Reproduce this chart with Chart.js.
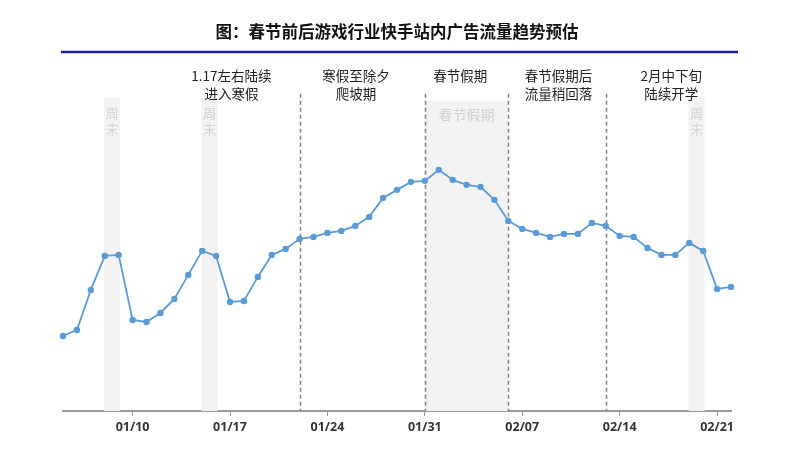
<!DOCTYPE html>
<html>
<head>
<meta charset="utf-8">
<script src="https://cdn.jsdelivr.net/npm/chart.js@4.4.0/dist/chart.umd.min.js"></script>
<style>
  html, body { margin: 0; padding: 0; background: #fff; }
  #wrap { width: 800px; height: 459px; }
</style>
</head>
<body>
<div id="wrap"><canvas id="myChart"></canvas></div>
<script>
const dates = [
    '01/05', '01/06', '01/07', '01/08', '01/09', '01/10', '01/11', '01/12', '01/13', '01/14',
    '01/15', '01/16', '01/17', '01/18', '01/19', '01/20', '01/21', '01/22', '01/23', '01/24',
    '01/25', '01/26', '01/27', '01/28', '01/29', '01/30', '01/31', '02/01', '02/02', '02/03',
    '02/04', '02/05', '02/06', '02/07', '02/08', '02/09', '02/10', '02/11', '02/12', '02/13',
    '02/14', '02/15', '02/16', '02/17', '02/18', '02/19', '02/20', '02/21', '02/22'
];
const traffic = [
    75, 81, 121, 155, 156, 91, 89, 98, 112, 136,
    160, 155, 109, 110, 134, 156, 162, 172, 174, 178,
    180, 185, 194, 213, 221, 229, 230, 241, 231, 226,
    224, 211, 190, 182, 178, 174, 177, 177, 188, 185,
    175, 174, 163, 156, 156, 168, 160, 122, 124
];
const tickDates = ['01/10', '01/17', '01/24', '01/31', '02/07', '02/14', '02/21'];
const weekends = [['01/08', '01/09'], ['01/15', '01/16'], ['02/19', '02/20']];
const holiday = ['01/31', '02/06'];
const phaseLines = ['01/22', '01/31', '02/06', '02/13'];
const noteDates = ['01/17', '01/26', '02/02', '02/09', '02/17'];
const noteTexts = [
    ['1.17左右陆续', '进入寒假'],
    ['寒假至除夕', '爬坡期'],
    ['春节假期', ''],
    ['春节假期后', '流量稍回落'],
    ['2月中下旬', '陆续开学']
];

const cjk = '"Noto Sans CJK SC", "Noto Sans", sans-serif';

// shaded bands, dashed phase lines and the texts around the plot
const decorPlugin = {
    id: 'decor',
    beforeDatasetsDraw(chart) {
        const ctx = chart.ctx;
        const x = chart.scales.x;
        const area = chart.chartArea;
        const px = d => x.getPixelForValue(dates.indexOf(d));
        const day = x.getPixelForValue(1) - x.getPixelForValue(0);

        ctx.save();
        ctx.fillStyle = '#f2f2f2';
        weekends.forEach(w => {
            const x0 = px(w[0]) - day * 0.05;
            const x1 = px(w[1]) + day * 0.1;
            ctx.fillRect(x0, area.top + 1, x1 - x0, area.bottom - area.top - 1);
        });
        const h0 = px(holiday[0]), h1 = px(holiday[1]);
        ctx.fillRect(h0, area.top + 4, h1 - h0, area.bottom - area.top - 4);

        ctx.fillStyle = '#d3d3d3';
        ctx.textAlign = 'center';
        ctx.textBaseline = 'middle';
        ctx.font = '13px ' + cjk;
        weekends.forEach(w => {
            const cx = (px(w[0]) + px(w[1])) / 2 + day * 0.03;
            ctx.fillText('周', cx, area.top + 16);
            ctx.fillText('末', cx, area.top + 32);
        });
        ctx.font = '14px ' + cjk;
        ctx.fillText('春节假期', (h0 + h1) / 2, area.top + 18);

        ctx.strokeStyle = '#808080';
        ctx.lineWidth = 1.5;
        ctx.setLineDash([4, 3]);
        phaseLines.forEach(d => {
            const lx = Math.round(px(d)) + 0.5;
            ctx.beginPath();
            ctx.moveTo(lx, area.top - 3);
            ctx.lineTo(lx, area.bottom);
            ctx.stroke();
        });
        ctx.setLineDash([]);

        ctx.fillStyle = '#222';
        ctx.font = '13.5px ' + cjk;
        const shift = [0.1, 0.05, 0.55, 0.6, 0.7];
        noteDates.forEach((d, i) => {
            const cx = x.getPixelForValue(dates.indexOf(d) + shift[i]);
            ctx.fillText(noteTexts[i][0], cx, area.top - 21);
            if (noteTexts[i][1]) ctx.fillText(noteTexts[i][1], cx, area.top - 3);
        });

        ctx.strokeStyle = '#1c1c9c';
        ctx.lineWidth = 2.5;
        ctx.beginPath();
        ctx.moveTo(61, 52);
        ctx.lineTo(738, 52);
        ctx.stroke();
        ctx.restore();
    }
};

const ctx = document.getElementById('myChart').getContext('2d');
new Chart(ctx, {
    type: 'line',
    data: {
        labels: dates,
        datasets: [{
            label: '广告流量',
            data: traffic,
            borderColor: '#5b9bd5',
            backgroundColor: '#5b9bd5',
            borderWidth: 1.8,
            pointRadius: 3.2,
            pointBorderWidth: 0,
            tension: 0
        }]
    },
    options: {
        responsive: true,
        maintainAspectRatio: false,
        animation: false,
        layout: { padding: { left: 63, right: 69, top: 0, bottom: 20 } },
        plugins: {
            legend: { display: false },
            tooltip: { enabled: false },
            title: {
                display: true,
                text: '图：春节前后游戏行业快手站内广告流量趋势预估',
                color: '#111',
                font: { family: cjk, size: 16.5, weight: 'bold' },
                padding: { top: 22, bottom: 55 }
            }
        },
        scales: {
            x: {
                offset: false,
                border: { display: true, color: '#999', width: 2 },
                grid: { drawOnChartArea: false, drawTicks: true, tickLength: 5, color: '#999' },
                ticks: {
                    autoSkip: false,
                    maxRotation: 0,
                    padding: 4,
                    color: '#333',
                    font: { family: '"Noto Sans", sans-serif', size: 12.5, weight: 'bold' },
                    callback: function(value) {
                        const label = dates[value];
                        return tickDates.includes(label) ? label : null;
                    }
                }
            },
            y: {
                display: false,
                min: 0,
                max: 314
            }
        }
    },
    plugins: [decorPlugin]
});
</script>
</body>
</html>
